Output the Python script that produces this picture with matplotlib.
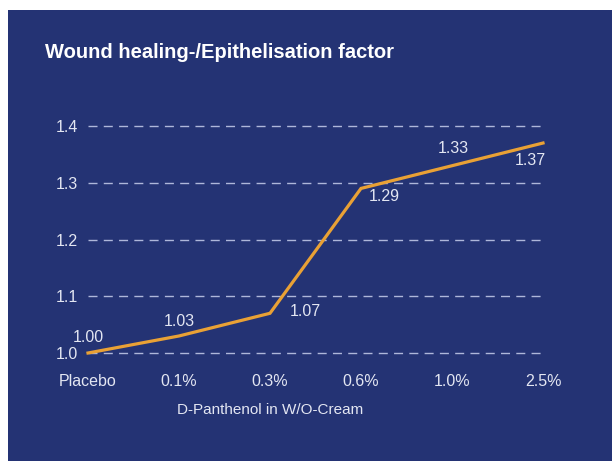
import matplotlib
matplotlib.use("Agg")
import matplotlib.pyplot as plt
from matplotlib.patches import Rectangle
from matplotlib import font_manager

categories = ["Placebo", "0.1%", "0.3%", "0.6%", "1.0%", "2.5%"]
values = [1.00, 1.03, 1.07, 1.29, 1.33, 1.37]
value_labels = ["1.00", "1.03", "1.07", "1.29", "1.33", "1.37"]
yticks = [1.0, 1.1, 1.2, 1.3, 1.4]
title = "Wound healing-/Epithelisation factor"
xlabel = "D-Panthenol in W/O-Cream"

names = {f.name for f in font_manager.fontManager.ttflist}
fam = ["Liberation Sans Narrow", "Liberation Sans", "DejaVu Sans"] if "Liberation Sans Narrow" in names else ["Liberation Sans", "DejaVu Sans"]
plt.rcParams['font.family'] = fam

W, H = 612, 461
fig = plt.figure(figsize=(W/100, H/100), dpi=100)
fig.patch.set_facecolor("white")
navy = "#243374"
fig.patches.append(Rectangle((8/W, 0), 1 - 8/W, 1 - 10/H, transform=fig.transFigure,
                             facecolor=navy, edgecolor="none", zorder=-5))

ax = fig.add_axes([88/W, (H-353)/H, (543-88)/W, (353-126)/H])
ax.set_zorder(2)
ax.set_facecolor("none")
x = list(range(len(categories)))
ax.plot(x, values, color="#E9A135", lw=2.3, clip_on=False, zorder=3, solid_joinstyle="miter")
ax.set_xlim(0, len(categories)-1)
ax.set_ylim(1.0, 1.4)
ax.set_yticks(yticks)
ax.set_yticklabels([f"{v:.1f}" for v in yticks])
ax.set_xticks(x)
ax.set_xticklabels(categories)
for s in ax.spines.values():
    s.set_visible(False)
ax.tick_params(axis="both", length=0, colors="#E3E6F2", labelsize=11.5)
ax.tick_params(axis="x", pad=15)
ax.tick_params(axis="y", pad=7)
for yv in yticks:
    ax.axhline(yv, color="#AEB7DA", lw=1, dashes=(6.5, 4.5), zorder=1, clip_on=False)

offsets = [(0, 16), (0, 14), (35, 2), (23, -8), (1, 17), (-13, -17)]
for xi, v, lab, (dx, dy) in zip(x, values, value_labels, offsets):
    ax.annotate(lab, (xi, v), xytext=(dx, dy), textcoords="offset pixels",
                ha="center", va="center", color="#E3E6F2", fontsize=11.5)

fig.text(45/W, 1 - 52/H, title, ha="left", va="center", color="white",
         fontsize=14.5, fontweight="bold")
fig.text(270/W, 1 - 410/H, xlabel, ha="center", va="center", color="#E3E6F2", fontsize=11)

fig.savefig("out.png", dpi=100, facecolor=fig.get_facecolor())
